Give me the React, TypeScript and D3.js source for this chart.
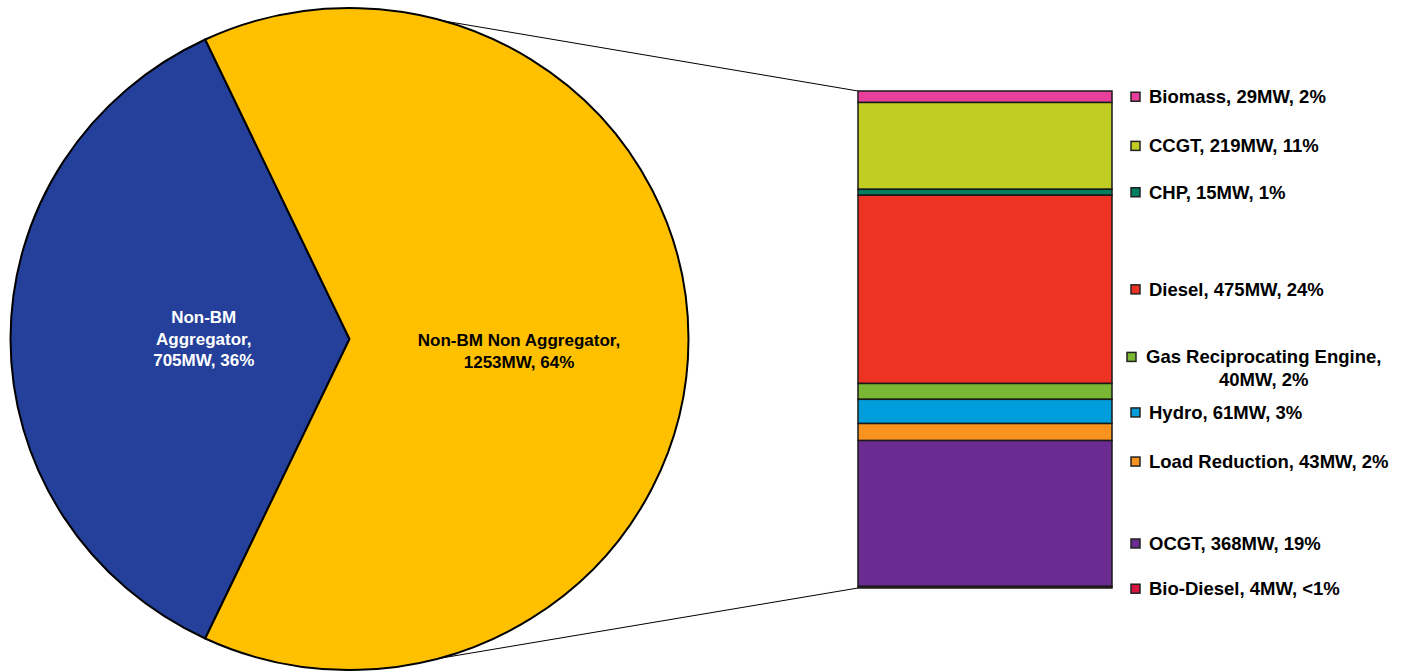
import React, { useEffect, useRef } from 'react';
import * as d3 from 'd3';

// --- data ---
const pieNames = ['Non-BM Aggregator', 'Non-BM Non Aggregator'];
const pieValues = [705, 1253];
const pieLabels = [
	['Non-BM', 'Aggregator,', '705MW, 36%'],
	['Non-BM Non Aggregator,', '1253MW, 64%'],
];
const pieColors = ['#24409A', '#FFC000'];

const techNames = [
	'Biomass',
	'CCGT',
	'CHP',
	'Diesel',
	'Gas Reciprocating Engine',
	'Hydro',
	'Load Reduction',
	'OCGT',
	'Bio-Diesel',
];
const techValues = [29, 219, 15, 475, 40, 61, 43, 368, 4];
const techLabels = [
	['Biomass, 29MW, 2%'],
	['CCGT, 219MW, 11%'],
	['CHP, 15MW, 1%'],
	['Diesel, 475MW, 24%'],
	['Gas Reciprocating Engine,', '40MW, 2%'],
	['Hydro, 61MW, 3%'],
	['Load Reduction, 43MW, 2%'],
	['OCGT, 368MW, 19%'],
	['Bio-Diesel, 4MW, <1%'],
];
const techColors = [
	'#E8409A',
	'#C2CD23',
	'#00805F',
	'#EE3224',
	'#7AB733',
	'#009DDC',
	'#F7931E',
	'#6A2C91',
	'#D7173F',
];

// layout tweaks (Excel pushes some labels away from their segment)
const legendNudge = [0, 0, 0, 0, -23, 1, 29.5, 30, 1.5];
const pieLabelRadius = [0.43, 0.5];
const pieLabelDy = [0, 12];

const W = 1411;
const H = 671;
const font = '"Liberation Sans", Arial, sans-serif';

const App: React.FC = () => {
	const ref = useRef<SVGSVGElement>(null);

	useEffect(() => {
		if (!ref.current) return;
		const svg = d3.select(ref.current);
		svg.selectAll('*').remove();

		// --- pie (slightly wider than tall, like the source image) ---
		const cx = 349.5;
		const cy = 339;
		const ry = 331;
		const rx = 339;
		const sx = rx / ry;

		const total = d3.sum(pieValues);
		const blueSpan = (pieValues[0] / total) * Math.PI * 2;
		const start = (Math.PI * 3) / 2 - blueSpan / 2;

		const pie = d3
			.pie<number>()
			.value((d) => d)
			.sort(null)
			.startAngle(start)
			.endAngle(start + Math.PI * 2);
		const arcs = pie(pieValues);
		const arc = d3.arc<d3.PieArcDatum<number>>().innerRadius(0).outerRadius(ry);

		const pieG = svg
			.append('g')
			.attr('transform', `translate(${cx},${cy}) scale(${sx},1)`);

		pieG
			.selectAll('path')
			.data(arcs)
			.enter()
			.append('path')
			.attr('d', arc)
			.attr('fill', (_, i) => pieColors[i])
			.attr('stroke', '#000')
			.attr('stroke-width', 2)
			.attr('stroke-linejoin', 'round')
			.attr('vector-effect', 'non-scaling-stroke');

		// --- connector lines to the bar ---
		const barX0 = 858;
		const barX1 = 1112;
		const y = d3.scaleLinear().domain([0, d3.sum(techValues)]).range([91, 588]);

		const onEllipse = (a: number) => [cx + rx * Math.sin(a), cy - ry * Math.cos(a)];
		const topPt = onEllipse((16 * Math.PI) / 180);
		const botPt = onEllipse((165 * Math.PI) / 180);
		svg
			.append('line')
			.attr('x1', topPt[0])
			.attr('y1', topPt[1])
			.attr('x2', barX0)
			.attr('y2', y(0))
			.attr('stroke', '#000')
			.attr('stroke-width', 1);
		svg
			.append('line')
			.attr('x1', botPt[0])
			.attr('y1', botPt[1])
			.attr('x2', barX0)
			.attr('y2', y(d3.sum(techValues)))
			.attr('stroke', '#000')
			.attr('stroke-width', 1);

		// pie labels
		arcs.forEach((d, i) => {
			const lArc = d3
				.arc<d3.PieArcDatum<number>>()
				.innerRadius(ry * pieLabelRadius[i])
				.outerRadius(ry * pieLabelRadius[i]);
			const [px, py] = lArc.centroid(d);
			const lines = pieLabels[i];
			const lh = 21.5;
			const t = svg
				.append('text')
				.attr('text-anchor', 'middle')
				.attr('font-family', font)
				.attr('font-weight', 'bold')
				.attr('font-size', '17px')
				.attr('fill', i === 0 ? '#fff' : '#000');
			lines.forEach((line, j) => {
				t.append('tspan')
					.attr('x', cx + px * sx)
					.attr('y', cy + py + pieLabelDy[i] + (j - (lines.length - 1) / 2) * lh)
					.attr('dy', '0.35em')
					.text(line);
			});
		});

		// --- stacked bar ---
		let acc = 0;
		const segs = techValues.map((v, i) => {
			const s = { i, y0: acc, y1: acc + v };
			acc += v;
			return s;
		});

		svg
			.append('g')
			.selectAll('rect')
			.data(segs)
			.enter()
			.append('rect')
			.attr('x', barX0)
			.attr('width', barX1 - barX0)
			.attr('y', (d) => y(d.y0))
			.attr('height', (d) => y(d.y1) - y(d.y0))
			.attr('fill', (d) => techColors[d.i])
			.attr('stroke', '#1a1a1a')
			.attr('stroke-width', 1.5);

		// --- legend ---
		const sqX = 1131;
		const textX = 1149;
		segs.forEach((s) => {
			const lines = techLabels[s.i];
			const lh = 23;
			const mid = (y(s.y0) + y(s.y1)) / 2 + legendNudge[s.i];
			const firstY = mid - ((lines.length - 1) * lh) / 2;

			svg
				.append('rect')
				.attr('x', sqX - (lines.length > 1 ? 4 : 0))
				.attr('y', firstY - 4.5)
				.attr('width', 9)
				.attr('height', 9)
				.attr('fill', techColors[s.i])
				.attr('stroke', '#222')
				.attr('stroke-width', 1.5);

			const t = svg
				.append('text')
				.attr('font-family', font)
				.attr('font-weight', 'bold')
				.attr('font-size', '18.5px')
				.attr('fill', '#000');
			const tx = textX - (lines.length > 1 ? 3 : 0);
			t.append('tspan')
				.attr('x', tx)
				.attr('y', firstY)
				.attr('dy', '0.35em')
				.text(lines[0]);
			if (lines.length > 1) {
				const w = (t.node() as SVGTextElement).getComputedTextLength();
				lines.slice(1).forEach((line, j) => {
					t.append('tspan')
						.attr('x', tx + w / 2)
						.attr('y', firstY + (j + 1) * lh)
						.attr('dy', '0.35em')
						.attr('text-anchor', 'middle')
						.text(line);
				});
			}
		});
	}, []);

	return (
		<svg
			ref={ref}
			width={W}
			height={H}
			viewBox={`0 0 ${W} ${H}`}
			style={{ position: 'absolute', left: 0, top: 0, background: '#fff' }}
		/>
	);
};

export default App;
